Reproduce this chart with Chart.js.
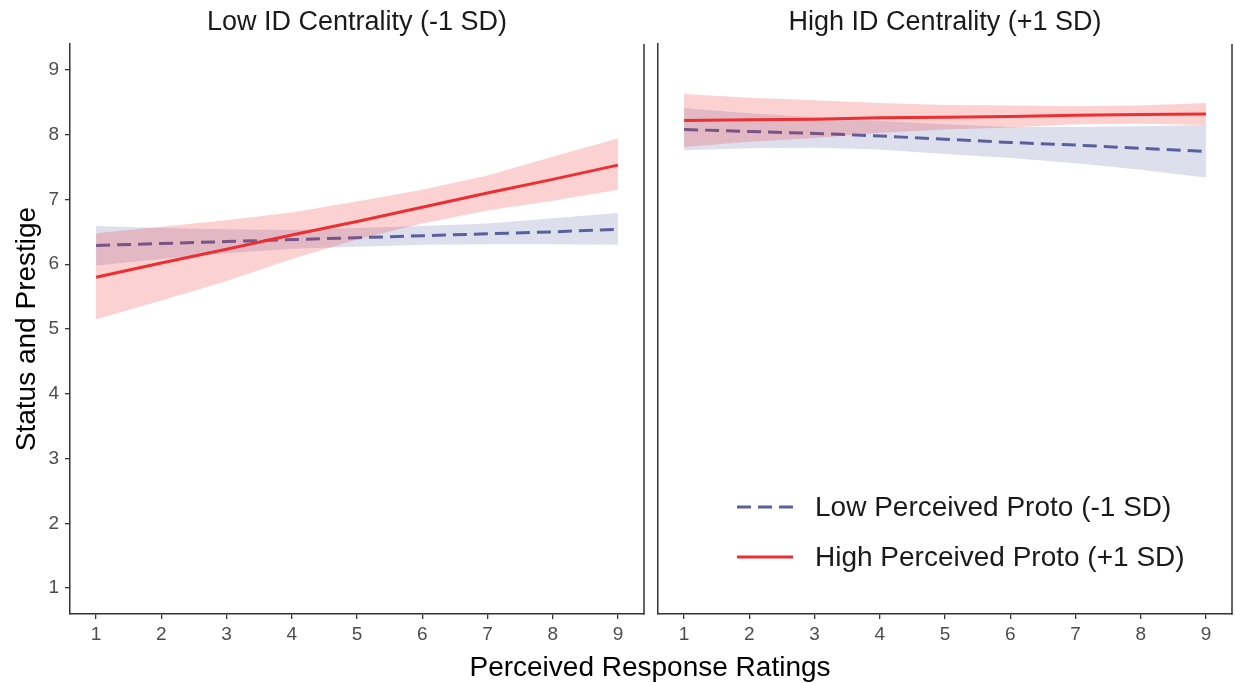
<!DOCTYPE html>
<html>
<head>
<meta charset="utf-8">
<script src="https://cdn.jsdelivr.net/npm/chart.js@4.4.1/dist/chart.umd.min.js"></script>
<style>
body { margin:0; background:#fff; width:1235px; height:683px; overflow:hidden; position:relative; font-family:"Liberation Sans", Arial, sans-serif; }
#leftPanel { position:absolute; left:0; top:0; }
#rightPanel { position:absolute; left:650px; top:0; }
#xTitle { position:absolute; left:350px; width:600px; top:651px; text-align:center; font-size:28px; color:#000; line-height:32px; }
</style>
</head>
<body>
<canvas id="leftPanel" width="650" height="683"></canvas>
<canvas id="rightPanel" width="585" height="683"></canvas>
<div id="xTitle">Perceived Response Ratings</div>
<script>
const xVals = [1,2,3,4,5,6,7,8,9];
const xTicks = [1,2,3,4,5,6,7,8,9];
const yTicks = [1,2,3,4,5,6,7,8,9];
const panelTitles = ['Low ID Centrality (-1 SD)', 'High ID Centrality (+1 SD)'];
const seriesNames = ['Low Perceived Proto (-1 SD)', 'High Perceived Proto (+1 SD)'];

// Low ID centrality panel
const lowIdLowProto = [6.29, 6.32, 6.35, 6.38, 6.41, 6.44, 6.47, 6.50, 6.54];
const lowIdLowProtoUpper = [6.59, 6.56, 6.54, 6.53, 6.56, 6.59, 6.63, 6.71, 6.79];
const lowIdLowProtoLower = [5.98, 6.08, 6.17, 6.24, 6.27, 6.30, 6.31, 6.31, 6.30];
const lowIdHighProto = [5.80, 6.02, 6.23, 6.45, 6.66, 6.88, 7.10, 7.31, 7.53];
const lowIdHighProtoUpper = [6.48, 6.58, 6.68, 6.80, 6.97, 7.15, 7.37, 7.66, 7.94];
const lowIdHighProtoLower = [5.15, 5.44, 5.74, 6.08, 6.38, 6.63, 6.83, 6.98, 7.15];

// High ID centrality panel
const highIdLowProto = [8.08, 8.05, 8.02, 7.98, 7.93, 7.88, 7.84, 7.79, 7.74];
const highIdLowProtoUpper = [8.41, 8.33, 8.27, 8.21, 8.16, 8.12, 8.12, 8.13, 8.15];
const highIdLowProtoLower = [7.76, 7.79, 7.80, 7.77, 7.70, 7.64, 7.56, 7.46, 7.34];
const highIdHighProto = [8.22, 8.23, 8.24, 8.26, 8.27, 8.28, 8.30, 8.31, 8.32];
const highIdHighProtoUpper = [8.63, 8.57, 8.53, 8.49, 8.46, 8.45, 8.44, 8.45, 8.49];
const highIdHighProtoLower = [7.81, 7.89, 7.95, 8.03, 8.08, 8.11, 8.16, 8.17, 8.15];

const fontFamily = '"Liberation Sans", Arial, sans-serif';
const blue = '#5a5f9e';
const red = '#ec2f33';
const blueBand = 'rgba(90,95,158,0.2)';
const redBand = 'rgba(236,47,51,0.22)';
const clear = 'rgba(0,0,0,0)';

function pts(ys) {
  return xVals.map((x, i) => ({x: x, y: ys[i]}));
}

function makeDatasets(lo, loU, loL, hi, hiU, hiL) {
  return [
    {label: seriesNames[0], data: pts(lo), borderColor: blue, borderWidth: 3, borderDash: [14, 7], order: 2},
    {label: seriesNames[1], data: pts(hi), borderColor: red, borderWidth: 3, order: 0},
    {data: pts(loL), borderColor: clear, borderWidth: 1, order: 3, band: true},
    {data: pts(loU), borderColor: clear, borderWidth: 1, order: 3, fill: '-1', backgroundColor: blueBand, band: true},
    {data: pts(hiL), borderColor: clear, borderWidth: 1, order: 1, band: true},
    {data: pts(hiU), borderColor: clear, borderWidth: 1, order: 1, fill: '-1', backgroundColor: redBand, band: true}
  ];
}

// strip title, right edge of the panel and the legend
const panelFrame = {
  id: 'panelFrame',
  afterDraw(chart, args, opts) {
    const ctx = chart.ctx;
    const a = chart.chartArea;
    ctx.save();
    ctx.strokeStyle = '#333';
    ctx.lineWidth = 1.5;
    ctx.beginPath();
    ctx.moveTo(a.right, a.top);
    ctx.lineTo(a.right, a.bottom + 0.75);
    ctx.stroke();

    ctx.fillStyle = '#1a1a1a';
    ctx.font = '27px ' + fontFamily;
    ctx.textAlign = 'center';
    ctx.textBaseline = 'middle';
    ctx.fillText(opts.text, (a.left + a.right) / 2, 23);

    if (opts.legend) {
      ctx.font = '28px ' + fontFamily;
      ctx.textAlign = 'left';
      chart.data.datasets.filter(d => !d.band).forEach((d, i) => {
        const y = 507 + i * 50;
        ctx.strokeStyle = d.borderColor;
        ctx.lineWidth = 3;
        ctx.setLineDash(d.borderDash || []);
        ctx.beginPath();
        ctx.moveTo(87, y);
        ctx.lineTo(143, y);
        ctx.stroke();
        ctx.setLineDash([]);
        ctx.fillStyle = '#1a1a1a';
        ctx.fillText(d.label, 165, y + 1);
      });
    }
    ctx.restore();
  }
};

function makeOptions(isLeft, title) {
  return {
    responsive: false,
    animation: false,
    layout: {padding: {top: 44, right: isLeft ? 6 : 3, left: 0, bottom: 0}},
    plugins: {
      legend: {display: false},
      tooltip: {enabled: false},
      panelFrame: {text: title, legend: !isLeft}
    },
    elements: {point: {radius: 0}, line: {tension: 0, fill: false}},
    scales: {
      x: {
        type: 'linear', min: 0.6, max: 9.4,
        afterBuildTicks: ax => { ax.ticks = xTicks.map(v => ({value: v})); },
        afterFit: ax => { ax.height = 69; },
        grid: {display: true, drawOnChartArea: false, drawTicks: true, tickLength: 5, color: '#333', lineWidth: 1.3},
        border: {display: true, color: '#333', width: 1.5},
        ticks: {font: {size: 19, family: fontFamily}, color: '#4d4d4d', padding: 4, maxRotation: 0}
      },
      y: {
        type: 'linear', min: 0.6, max: 9.4,
        afterBuildTicks: ax => { ax.ticks = yTicks.map(v => ({value: v})); },
        afterFit: ax => { ax.width = isLeft ? 70 : 8; },
        grid: {display: isLeft, drawOnChartArea: false, drawTicks: isLeft, tickLength: 5, color: '#333', lineWidth: 1.3},
        border: {display: true, color: '#333', width: 1.5},
        ticks: {display: isLeft, font: {size: 19, family: fontFamily}, color: '#4d4d4d', padding: 6},
        title: {display: isLeft, text: 'Status and Prestige', color: '#000',
                font: {size: 28, family: fontFamily}, padding: {top: 10, bottom: 0}}
      }
    }
  };
}

const leftChart = new Chart('leftPanel', {
  type: 'line',
  data: {datasets: makeDatasets(lowIdLowProto, lowIdLowProtoUpper, lowIdLowProtoLower,
                                lowIdHighProto, lowIdHighProtoUpper, lowIdHighProtoLower)},
  options: makeOptions(true, panelTitles[0]),
  plugins: [panelFrame]
});

const rightChart = new Chart('rightPanel', {
  type: 'line',
  data: {datasets: makeDatasets(highIdLowProto, highIdLowProtoUpper, highIdLowProtoLower,
                                highIdHighProto, highIdHighProtoUpper, highIdHighProtoLower)},
  options: makeOptions(false, panelTitles[1]),
  plugins: [panelFrame]
});
</script>
</body>
</html>
